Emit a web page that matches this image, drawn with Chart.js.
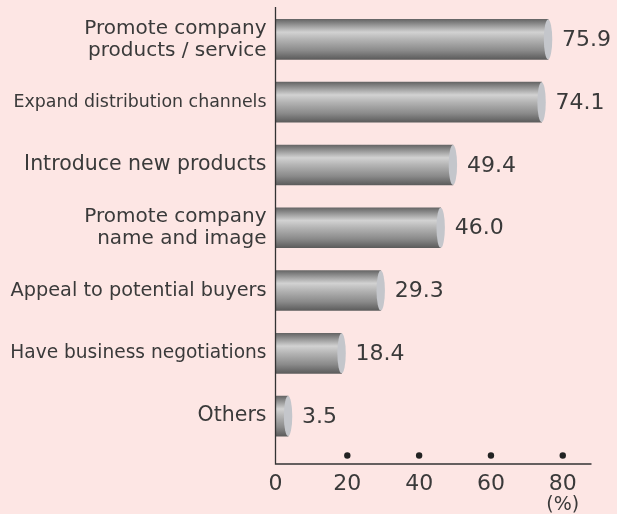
<!DOCTYPE html>
<html>
<head>
<meta charset="utf-8">
<script src="https://cdn.jsdelivr.net/npm/chart.js@4.4.1/dist/chart.umd.min.js"></script>
<style>
    html, body { margin: 0; padding: 0; background: #fde6e4; }
    #wrap { width: 617px; height: 514px; }
</style>
</head>
<body>
<div id="wrap"><canvas id="purposeChart" width="617" height="514"></canvas></div>
<script>
// Purposes of exhibiting (%)
const categories = [
    ['Promote company', 'products / service'],
    'Expand distribution channels',
    'Introduce new products',
    ['Promote company', 'name and image'],
    'Appeal to potential buyers',
    'Have business negotiations',
    'Others'
];
const values = [75.9, 74.1, 49.4, 46.0, 29.3, 18.4, 3.5];
const tickValues = [0, 20, 40, 60, 80];
const dotValues = [20, 40, 60, 80];
const axisUnit = '(%)';

const textColor = '#3a3a3a';
const fontFamily = '"DejaVu Sans", sans-serif';

// per-label sizes so the long ones fit like in the original
const labelSizes = [20, 17.4, 20.5, 20, 19.3, 18.6, 20.5];

// cylinder shading for each bar
function barGradient(context) {
    const chart = context.chart;
    const yScale = chart.scales.y;
    if (!yScale || context.dataIndex === undefined) {
        return '#999999';
    }
    const c = yScale.getPixelForValue(context.dataIndex);
    if (!isFinite(c)) {
        return '#999999';
    }
    const g = chart.ctx.createLinearGradient(0, c - 20, 0, c + 20);
    g.addColorStop(0, '#666666');
    g.addColorStop(0.12, '#8e8e8e');
    g.addColorStop(0.32, '#d2d2d2');
    g.addColorStop(0.5, '#b4b4b4');
    g.addColorStop(0.78, '#8a8a8a');
    g.addColorStop(1, '#5c5c5c');
    return g;
}

// axis lines, dots, bar end caps and value labels
const decorPlugin = {
    id: 'decor',
    afterDatasetsDraw(chart) {
        const ctx = chart.ctx;
        const meta = chart.getDatasetMeta(0);
        ctx.save();
        meta.data.forEach((bar, i) => {
            const half = bar.height / 2;
            ctx.beginPath();
            ctx.ellipse(bar.x, bar.y, 4.2, half, 0, 0, Math.PI * 2);
            ctx.fillStyle = '#c4c6cb';
            ctx.fill();
            ctx.fillStyle = textColor;
            ctx.font = '22px ' + fontFamily;
            ctx.textAlign = 'left';
            ctx.textBaseline = 'middle';
            ctx.fillText(values[i].toFixed(1), bar.x + 14, bar.y + 1);
        });
        ctx.restore();
    },
    afterDraw(chart) {
        const ctx = chart.ctx;
        const xs = chart.scales.x;
        const area = chart.chartArea;
        const axisY = area.bottom + 16.5;
        ctx.save();
        ctx.strokeStyle = '#333333';
        ctx.lineWidth = 1.3;
        ctx.beginPath();
        ctx.moveTo(area.left, area.top - 1);
        ctx.lineTo(area.left, axisY);
        ctx.lineTo(area.right, axisY);
        ctx.stroke();
        ctx.fillStyle = '#222222';
        dotValues.forEach(v => {
            ctx.beginPath();
            ctx.arc(xs.getPixelForValue(v), axisY - 8.5, 3.2, 0, Math.PI * 2);
            ctx.fill();
        });
        ctx.fillStyle = textColor;
        ctx.font = '19px ' + fontFamily;
        ctx.textAlign = 'center';
        ctx.textBaseline = 'middle';
        ctx.fillText(axisUnit, xs.getPixelForValue(tickValues[tickValues.length - 1]), 505);
        ctx.restore();
    }
};

const chart = new Chart(document.getElementById('purposeChart'), {
    type: 'bar',
    data: {
        labels: categories,
        datasets: [{
            data: values,
            backgroundColor: barGradient,
            borderWidth: 0,
            barThickness: 40
        }]
    },
    options: {
        indexAxis: 'y',
        responsive: false,
        animation: false,
        layout: {
            padding: { top: 8, right: 25.5, bottom: 0, left: 0 }
        },
        scales: {
            x: {
                min: 0,
                max: 88,
                afterBuildTicks: (scale) => {
                    scale.ticks = tickValues.map(v => ({ value: v }));
                },
                afterFit: (scale) => {
                    scale.height = 66.5;
                    scale.paddingLeft = 0;
                    scale.paddingRight = 0;
                },
                grid: { display: false, drawTicks: false },
                border: { display: false },
                ticks: {
                    padding: 24,
                    color: textColor,
                    font: { family: fontFamily, size: 22 },
                    maxRotation: 0
                }
            },
            y: {
                afterFit: (scale) => {
                    scale.width = 275.5;
                    scale.paddingTop = 0;
                    scale.paddingBottom = 0;
                },
                grid: { display: false, drawTicks: false },
                border: { display: false },
                ticks: {
                    padding: 9,
                    color: textColor,
                    font: (c) => ({
                        family: fontFamily,
                        size: labelSizes[c.index] || 20,
                        lineHeight: 1.1
                    })
                }
            }
        },
        plugins: {
            legend: { display: false },
            tooltip: { enabled: false }
        }
    },
    plugins: [decorPlugin]
});
</script>
</body>
</html>
